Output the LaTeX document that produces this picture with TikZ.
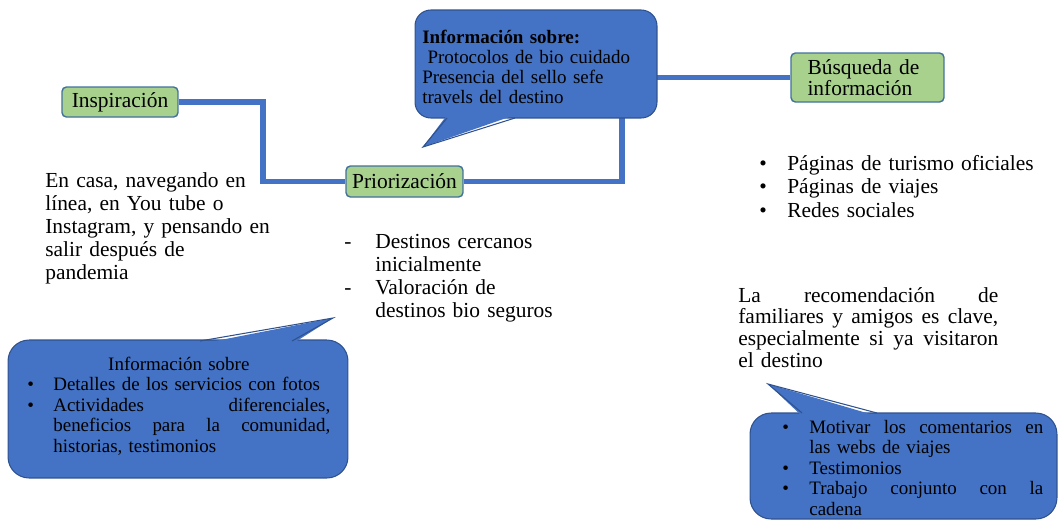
\documentclass[tikz,border=0pt]{standalone}
\usepackage{fontspec}
\setmainfont{Liberation Serif}
\definecolor{bubblefill}{HTML}{4472C4}
\definecolor{bubbleline}{HTML}{2F528F}
\definecolor{stagefill}{HTML}{A9D18E}
\definecolor{stageline}{HTML}{41719C}
\newcommand\outerfont{\fontsize{12.2}{13.2}\selectfont}
\newcommand\innerfont{\fontsize{10.8}{11.7}\selectfont}
\newcommand\itm[1]{\makebox[#1][l]{\textbullet}}
\newcommand\jline[2]{\leavevmode\hbox to #1{#2}}

\begin{document}
\begin{tikzpicture}[x=0.02cm,y=-0.02cm,
  stage/.style={draw=stageline,fill=stagefill,line width=0.8pt,rounded corners=2.5pt,inner sep=0pt,font=\outerfont},
  bubble/.style={draw=bubbleline,fill=bubblefill,line width=0.6pt,inner sep=0pt},
  link/.style={draw=bubblefill,line width=3.4pt},
  note/.style={anchor=base west,inner sep=0pt,align=left}]
\useasboundingbox (0,0) rectangle (1059,522);

\node [stage,minimum width=2.32cm,minimum height=0.6cm] (insp) at (120,102) {Inspiración};
\node [stage,minimum width=2.34cm,minimum height=0.62cm] (prio) at (404.5,181.5) {Priorización};
\node [stage,minimum width=3.06cm,minimum height=0.98cm,text width=2.4cm,align=left,font=\fontsize{12.2}{12}\selectfont] (busq) at (867.5,77.5) {Búsqueda de\\información};

\coordinate (bend) at (622,130);
\draw [link] (insp.east) -- ++(84,0) |- (prio.west);
\draw [link] (prio.east) -| (bend) |- (busq.west);

\node [bubble,rounded corners=9pt,minimum width=4.84cm,minimum height=2.16cm] (infotop) at (536,64) {};
\fill [bubblefill] (447,115) -- (423,147) -- (515,115) -- cycle;
\draw [bubbleline,line width=0.6pt] (447,118) -- (423,147) -- (515,118);

\node [bubble,rounded corners=12pt,minimum width=6.8cm,minimum height=2.76cm] (infoleft) at (178,409) {};
\fill [bubblefill] (200,344) -- (333,318) -- (292,344) -- cycle;
\draw [bubbleline,line width=0.6pt] (200,341) -- (333,318) -- (292,341);

\node [bubble,rounded corners=12pt,minimum width=6.14cm,minimum height=2.12cm] (inforight) at (903.5,466) {};
\fill [bubblefill] (802,416) -- (768,384) -- (877,416) -- cycle;
\draw [bubbleline,line width=0.6pt] (802,413) -- (768,384) -- (877,413);

\node [note,text width=4.6cm,font=\fontsize{10.8}{11.4}\selectfont] (toptext) at (422,43)
  {\textbf{Información sobre:}\\ \hspace*{3pt}Protocolos de bio cuidado\\Presencia del sello sefe\\travels del destino};

\node [note,text width=6.06cm,font=\innerfont] (lefttext) at (27,370)
  {\makebox[\linewidth]{Información sobre}\\
   \itm{0.52cm}Detalles de los servicios con fotos\\
   \itm{0.52cm}\jline{5.54cm}{Actividades\hfill diferenciales,}\\
   \hspace*{0.52cm}\jline{5.54cm}{beneficios\hfill para\hfill la\hfill comunidad,}\\
   \hspace*{0.52cm}historias, testimonios};

\node [note,text width=5.22cm,font=\innerfont] (righttext) at (782,433)
  {\itm{0.54cm}\jline{4.68cm}{Motivar\hfill los\hfill comentarios\hfill en}\\
   \hspace*{0.54cm}las webs de viajes\\
   \itm{0.54cm}Testimonios\\
   \itm{0.54cm}\jline{4.68cm}{Trabajo\hfill conjunto\hfill con\hfill la}\\
   \hspace*{0.54cm}cadena};

\node [note,text width=5cm,font=\fontsize{12.2}{13.1}\selectfont] (home) at (45,187)
  {En casa, navegando en\\línea, en You tube o\\Instagram, y pensando en\\salir después de\\pandemia};

\node [note,text width=5cm,font=\fontsize{12.2}{13.1}\selectfont] (prioitems) at (344,248)
  {\makebox[0.62cm][l]{-}Destinos cercanos\\
   \hspace*{0.62cm}inicialmente\\
   \makebox[0.62cm][l]{-}Valoración de\\
   \hspace*{0.62cm}destinos bio seguros};

\node [note,text width=6cm,font=\fontsize{12.2}{13.4}\selectfont] (sources) at (759,170)
  {\itm{0.56cm}Páginas de turismo oficiales\\
   \itm{0.56cm}Páginas de viajes\\
   \itm{0.56cm}Redes sociales};

\node [note,text width=5.2cm,font=\fontsize{12.2}{12.4}\selectfont] (advice) at (738,302)
  {\jline{5.2cm}{La\hfill recomendación\hfill de}\\
   \jline{5.2cm}{familiares\hfill y\hfill amigos\hfill es\hfill clave,}\\
   \jline{5.2cm}{especialmente\hfill si\hfill ya\hfill visitaron}\\
   el destino};
\end{tikzpicture}
\end{document}
